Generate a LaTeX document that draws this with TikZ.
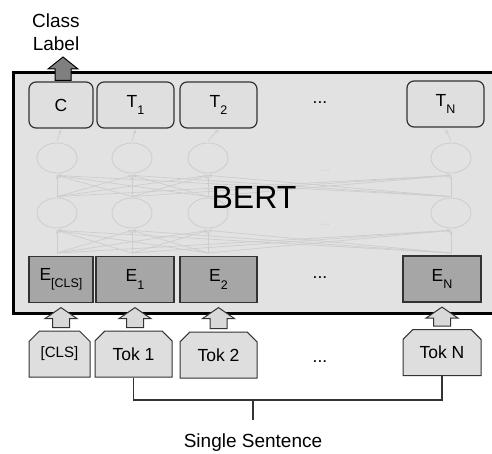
\documentclass[tikz,border=0pt]{standalone}
\usepackage{fontspec}
\setmainfont{Liberation Sans}
\usetikzlibrary{shapes.misc,shapes.geometric,calc,arrows.meta}

\definecolor{bertbg}{HTML}{E2E2E2}
\definecolor{boxfill}{HTML}{DFDFDF}
\definecolor{embfill}{HTML}{A6A6A6}
\definecolor{tokfill}{HTML}{DEDEDE}
\definecolor{outarrow}{HTML}{7F7F7F}
\definecolor{inarrow}{HTML}{D9D9D9}
\definecolor{netgray}{HTML}{CDCDCD}
\definecolor{edgegray}{HTML}{333333}

% lowered, smaller index after a letter
\newcommand{\idx}[1]{\raisebox{-0.42em}{\fontsize{12.5}{13}\selectfont #1}}

% upward block arrow: style, from (bottom), to (tip), shaft half width, head half width, head length
\newcommand{\blockarrow}[6]{%
  \path[#1] let \p1=(#2), \p2=(#3) in
    (\x2-#4,\y1) -- (\x2-#4,\y2-#6) -- (\x2-#5,\y2-#6) -- (\x2,\y2)
    -- (\x2+#5,\y2-#6) -- (\x2+#4,\y2-#6) -- (\x2+#4,\y1) -- cycle;}

\begin{document}
\begin{tikzpicture}[x=1pt,y=-1pt,
  every node/.style={font=\fontsize{17.5}{19}\selectfont, inner sep=0pt},
  outbox/.style={draw=edgegray, line width=1.2pt, rounded corners=7pt,
    fill=boxfill, minimum height=46pt},
  embbox/.style={draw=edgegray, line width=1.2pt, fill=embfill, minimum height=46pt},
  tokbox/.style={chamfered rectangle, chamfered rectangle corners={north west,north east},
    chamfered rectangle xsep=7pt, draw=edgegray, line width=1pt, fill=tokfill,
    minimum height=46pt},
  neuron/.style={ellipse, draw=netgray, line width=0.8pt, minimum width=40pt, minimum height=30pt},
  netedge/.style={draw=netgray, line width=0.7pt, -{Stealth[length=4pt,width=3.5pt]}},
  bigarrow/.style={draw=black, line width=1pt, fill=outarrow},
  smallarrow/.style={draw=edgegray, line width=1pt, fill=inarrow},
  bracket/.style={draw=edgegray, line width=1.1pt},
  dots/.style={text=netgray, font=\fontsize{12}{12}\selectfont},
]
\useasboundingbox (0,0) rectangle (492,454);

% encoder frame
\draw[line width=3pt, fill=bertbg] (13,73) rectangle (520,313);

% faint transformer network
\foreach \n/\x in {1/57,2/132,3/208,4/451} {
  \node[neuron] (hb\n) at (\x,213) {};
  \node[neuron] (ht\n) at (\x,158) {};
  \coordinate (in\n) at (\x,253);
}
\node[dots] (dotsb) at (325,225) {...};
\node[dots] (dotst) at (325,171) {...};
\foreach \i in {1,...,4} {
  \foreach \j in {1,...,4} {
    \draw[netedge] (in\i) -- ($(hb\j.south)+(0,2)$);
    \draw[netedge] ($(hb\i.north)+(0,-1)$) -- ($(ht\j.south)+(0,2)$);
  }
}

\node[font=\fontsize{32}{34}\selectfont] (bert) at (254,197) {BERT};

% output boxes
\node[outbox, minimum width=64pt] (oC) at (61,105) {C};
\node[outbox, minimum width=77pt] (o1) at (135.5,105) {T\idx{1}};
\node[outbox, minimum width=77pt] (o2) at (218.5,105) {T\idx{2}};
\node (odots) at (320,103) {...};
\node[outbox, minimum width=77pt] (oN) at (445.5,104) {T\idx{N}};

\foreach \n/\o in {1/oC,2/o1,3/o2,4/oN}
  \draw[netedge] ($(ht\n.north)+(0,-2)$) -- ($(\o.south |- ht\n.north)+(0,-13)$);

% embedding boxes
\node[embbox, minimum width=64pt] (eC) at (61,279.5) {E\idx{[CLS]}};
\node[embbox, minimum width=78pt] (e1) at (135,279.5) {E\idx{1}};
\node[embbox, minimum width=77pt] (e2) at (218.5,279.5) {E\idx{2}};
\node (edots) at (320,278) {...};
\node[embbox, minimum width=78pt] (eN) at (442,279) {E\idx{N}};

% input tokens
\node[tokbox, minimum width=61pt, font=\fontsize{15}{16}\selectfont] (tC) at (59.5,354) {[CLS]};
\node[tokbox, minimum width=77pt] (t1) at (133.5,354) {Tok 1};
\node[tokbox, minimum width=77pt] (t2) at (218.5,355) {Tok 2};
\node (tdots) at (320,362) {...};
\node[tokbox, minimum width=78pt] (tN) at (442,352.5) {Tok N};

% token -> embedding arrows
\foreach \t/\e in {tC/eC,t1/e1,t2/e2,tN/eN}
  \blockarrow{smallarrow}{$(\t.north)+(0,-3)$}{$(\e.south)+(0,4.5)$}{8.5pt}{16pt}{11pt};

% class label output
\coordinate (cl) at (63,57);
\blockarrow{bigarrow}{$(oC.north)+(0,-1)$}{cl}{8pt}{15pt}{12pt};
\node[align=center, font=\fontsize{19}{22.5}\selectfont] (lbl) at (56,32) {Class\\Label};

% sentence bracket
\coordinate (br) at (253,400);
\coordinate (tick) at (253,420);
\draw[bracket] (t1.south) |- (br) -| (tN.south);
\draw[bracket] (br) -- (tick);
\node[anchor=base, font=\fontsize{19}{21}\selectfont] (sent) at (253,447) {Single Sentence};
\end{tikzpicture}
\end{document}
